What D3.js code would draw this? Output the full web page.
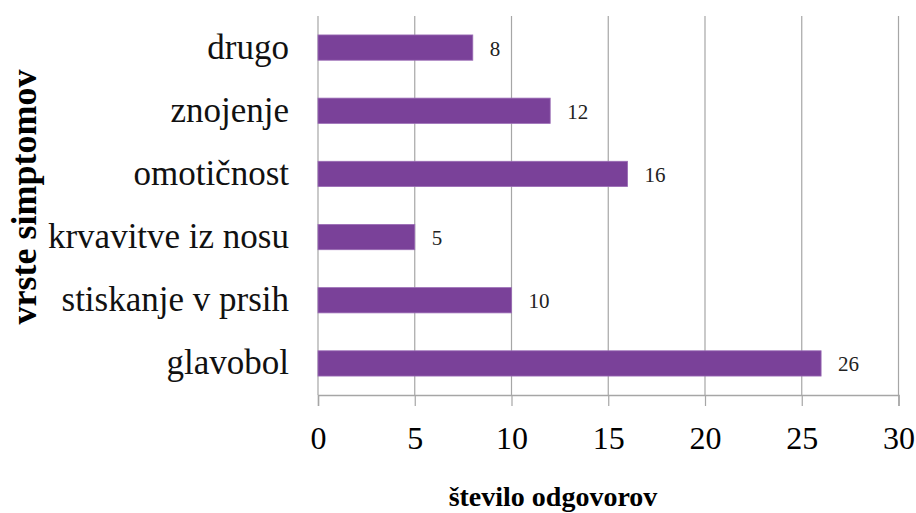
<!DOCTYPE html>
<html>
<head>
<meta charset="utf-8">
<script src="https://cdn.jsdelivr.net/npm/d3@7"></script>
<style>
  body { margin: 0; background: #fff; }
  svg text { font-family: "Liberation Serif", "Times New Roman", "DejaVu Serif", serif; }
</style>
</head>
<body>
<svg id="chart" width="916" height="513"></svg>
<script>
// data
var categories = ["drugo", "znojenje", "omotičnost", "krvavitve iz nosu", "stiskanje v prsih", "glavobol"];
var values = [8, 12, 16, 5, 10, 26];
var xTicks = [0, 5, 10, 15, 20, 25, 30];
var xTitle = "število odgovorov";
var yTitle = "vrste simptomov";

var svg = d3.select('#chart');
var plotLeft = 318, plotRight = 898.5, plotTop = 16, plotBottom = 395;

var x = d3.scaleLinear().domain([0, 30]).range([plotLeft, plotRight]);
var y = d3.scaleBand().domain(categories).range([plotTop, plotBottom]).paddingInner(0.6).paddingOuter(0.3);

// vertical gridlines
svg.append('g').selectAll('line')
  .data(xTicks)
  .enter()
  .append('line')
  .attr('x1', d => x(d))
  .attr('x2', d => x(d))
  .attr('y1', plotTop)
  .attr('y2', plotBottom)
  .style('stroke', '#a6a6a6')
  .style('stroke-width', 1.2);

// x axis
var xAxis = d3.axisBottom(x).tickValues(xTicks).tickSize(11).tickPadding(20);
var gx = svg.append('g')
  .attr('transform', 'translate(0,' + plotBottom + ')')
  .call(xAxis);
gx.select('.domain').style('stroke', '#a6a6a6').style('stroke-width', 1.5);
gx.selectAll('.tick line').style('stroke', '#a6a6a6').style('stroke-width', 1.2);
gx.selectAll('.tick text')
  .style('font-family', '"Liberation Serif", "Times New Roman", serif')
  .style('font-size', '32px')
  .style('fill', '#000');

// bars
svg.append('g').selectAll('rect')
  .data(categories)
  .enter()
  .append('rect')
  .attr('x', x(0))
  .attr('y', d => y(d))
  .attr('width', (d, i) => x(values[i]) - x(0))
  .attr('height', y.bandwidth())
  .style('fill', '#7a4199')
  .style('stroke', '#9a6cb5')
  .style('stroke-width', 0.8);

// value labels
svg.append('g').selectAll('text')
  .data(categories)
  .enter()
  .append('text')
  .attr('x', (d, i) => x(values[i]) + 17)
  .attr('y', d => y(d) + y.bandwidth() / 2 + 8)
  .style('font-size', '21px')
  .style('fill', '#222')
  .text((d, i) => values[i]);

// category labels
svg.append('g').selectAll('text')
  .data(categories)
  .enter()
  .append('text')
  .attr('x', 289)
  .attr('y', d => y(d) + y.bandwidth() / 2 + 11)
  .attr('text-anchor', 'end')
  .style('font-size', '35px')
  .style('fill', '#111')
  .text(d => d);

// axis titles
svg.append('text')
  .attr('x', 553)
  .attr('y', 506)
  .attr('text-anchor', 'middle')
  .style('font-size', '28px')
  .style('font-weight', 'bold')
  .text(xTitle);

svg.append('text')
  .attr('transform', 'translate(36,197) rotate(-90)')
  .attr('text-anchor', 'middle')
  .style('font-size', '36px')
  .style('font-weight', 'bold')
  .text(yTitle);
</script>
</body>
</html>
